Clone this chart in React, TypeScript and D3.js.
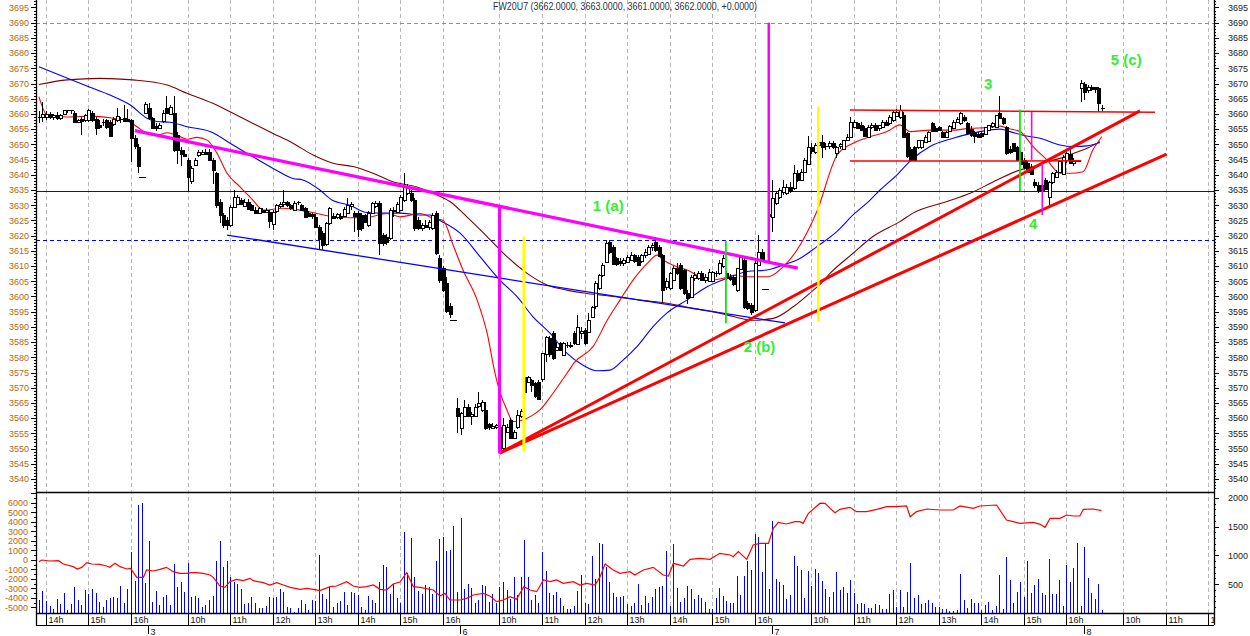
import React from "react";
import * as d3 from "d3";

// ---------- DATA ----------
const DAY_STARTS = [0, 88, 176, 264, 352];
const DAY_NAMES = ["2", "3", "6", "7", "8"];
const CLOSE_INDEX = 87;
const FIRST_G = 58;
const TITLE = "FW20U7 (3662.0000, 3663.0000, 3661.0000, 3662.0000, +0.0000)";

const HOUR_TICKS: [number, number][] = [
  [0, 14], [0, 15], [0, 16],
  [1, 10], [1, 11], [1, 12], [1, 13], [1, 14], [1, 15], [1, 16],
  [2, 10], [2, 11], [2, 12], [2, 13], [2, 14], [2, 15], [2, 16],
  [3, 10], [3, 11], [3, 12], [3, 13], [3, 14], [3, 15], [3, 16],
  [4, 10], [4, 11], [4, 12],
];

const PRICE_LABELS = d3.range(3540, 3700, 5);
const IND_LABELS = [6000, 5000, 4000, 3000, 2000, 1000, 0, -1000, -2000, -3000, -4000, -5000];
const VOL_LABELS = [2000, 1500, 1000, 500];

// o, h, l, c
const OHLC_D2 = [
  [3659,3661,3657,3659],[3659,3664,3657.5,3660],[3659,3661,3658,3660],[3660,3660.5,3658.5,3659],
  [3659,3660,3658,3659.5],[3659.7,3660.5,3658,3658.6],[3658.6,3660,3658,3659.5],[3660,3661.3,3659.5,3661.3],
  [3661.3,3661.3,3660.2,3661],[3661,3661.3,3660,3661.3],[3660.2,3661,3657,3657.2],[3657.2,3658.5,3657,3658],
  [3658.5,3659,3653,3658],[3658,3660,3657.5,3659.6],[3658,3661.5,3657.5,3661.3],[3660.2,3661,3657.5,3658],
  [3658.2,3659,3653,3655.3],[3656.5,3658,3655,3655.8],[3657.5,3658.5,3656,3657.5],[3658,3658.5,3655,3655.8],
  [3657.5,3658,3652.5,3653],[3657,3659,3656,3658.5],[3658,3661.8,3657.5,3659.2],[3658,3659,3657,3658.3],
  [3658.8,3663,3657.5,3657.7],[3658.2,3661.5,3657.5,3657.6],[3658,3658.5,3644.3,3652],[3652,3653,3648.5,3649.3],
  [3649.3,3650,3640.5,3643.2],[3639.2,3639.2,3639.2,3639.2],
];

const OHLC_D3 = [
  [3660.2,3664,3660,3663.3],[3662,3663.5,3658,3658.6],[3658.6,3659,3655,3655.3],[3656,3657,3654.5,3655.5],
  [3655.5,3657,3655,3656.5],[3657.5,3661.3,3657,3660.2],[3661.8,3665.9,3660,3660.2],[3660.2,3663,3659.5,3662.4],
  [3660.2,3665.9,3647.5,3648.2],[3653,3654,3643.5,3648.2],[3648.2,3649,3643,3647],[3647,3648,3646,3646.5],
  [3645,3645.5,3634.5,3639.4],[3637.7,3643,3637,3642.1],[3643.5,3645.5,3643,3645],[3646.5,3648,3646,3647.5],
  [3646.8,3648,3646.5,3647.5],[3647.5,3648.5,3646.5,3647],[3647.5,3648.5,3644.5,3644.9],[3645,3645.5,3637,3641.6],
  [3640.5,3641,3629,3630],[3631.2,3632,3624,3626.8],[3626.8,3627.5,3622.5,3623.5],[3625.1,3626,3622,3623.5],
  [3623.5,3630,3623,3629.5],[3629.5,3635,3629,3632.8],[3630.6,3633.5,3630,3632.8],[3631.7,3632.5,3630,3630.5],
  [3630,3632,3629.5,3631.2],[3631.2,3632,3628.5,3629],[3630,3630.5,3628,3628.4],[3628.5,3629.5,3627,3627.5],
  [3627.5,3629.5,3627,3629],[3628.5,3629,3627.5,3628],[3628,3629,3627.5,3628.5],[3627.9,3628.5,3622.5,3625.1],
  [3624,3628.5,3622,3627.9],[3627.9,3630.5,3627.5,3630],[3630,3631,3629,3630.5],[3630.5,3635,3629.5,3631],
  [3631,3631.5,3629.5,3630],[3630,3630.5,3628.5,3629],[3628.4,3631.5,3628,3630.8],[3630.8,3631.5,3630,3631],
  [3630,3630.5,3628,3628.4],[3629,3629.5,3626,3626.2],[3627.5,3628,3626,3626.5],[3627,3627.5,3625.5,3626.5],
  [3626.2,3627,3622.5,3623],[3623,3623.5,3615.3,3619.1],[3620.8,3621.5,3615.3,3617],[3617,3624.5,3616.5,3624],
  [3624,3629.5,3623.5,3629],[3626.5,3627.5,3625.5,3626],[3626,3627.5,3625.5,3627],[3626.5,3627.5,3625,3626],
  [3626.5,3629.5,3626,3628.7],[3627.5,3632.3,3627,3630],[3630,3631,3628.5,3630.5],[3627.3,3628,3621.3,3626.3],
  [3627.3,3628,3619.5,3621.9],[3626.8,3627.5,3621.5,3622.4],[3626.8,3627,3624.5,3624.6],[3623.5,3628,3623,3627.3],
  [3627.3,3631,3627,3630.6],[3629.5,3631.5,3629,3630.6],[3630.6,3631.5,3613.6,3617.5],[3620.2,3621,3616.5,3617.5],
  [3619.6,3620.5,3617,3618],[3619.1,3629,3618.5,3628.4],[3628.4,3629.5,3626,3628],[3628,3631,3627.5,3630.5],
  [3628.4,3633.5,3628,3632.8],[3631.7,3640.6,3631,3636.1],[3634,3637,3633.5,3636],[3633.9,3635,3631,3631.7],
  [3631.7,3632.5,3621.5,3622.4],[3625.1,3626,3622,3622.4],[3622.4,3624,3621.5,3623.5],[3623.5,3625,3622.5,3623],
  [3623,3625,3622,3624.5],[3622.4,3627.5,3622,3626.8],[3627.3,3628,3613.5,3614.2],[3612.5,3613.6,3604.3,3605.4],
  [3609.3,3610,3601.5,3602.1],[3604.3,3606.5,3594.5,3595.2],[3597,3598,3593,3594.5],[3592.3,3592.3,3592.3,3592.3],
];

const OHLC_D6 = [
  [3563.5,3566.5,3555,3561],[3556.7,3562,3554.5,3561.6],[3561,3566,3560.5,3563.8],[3563.8,3564.5,3560.5,3561],
  [3561,3562,3557.7,3561.5],[3561,3564.5,3560.5,3563.8],[3563.8,3568.7,3563.5,3564.9],[3562.7,3566,3562,3565.4],
  [3562.7,3565.4,3556,3556.7],[3558,3558.5,3556,3557],[3557,3558.5,3556.5,3557.5],[3557.2,3558,3556.5,3557.7],
  [3557.2,3557.5,3548.4,3549],[3550,3559.9,3549.5,3557.7],[3555.5,3558,3555,3557.2],[3559.4,3560,3553,3553.4],
  [3553.4,3556,3553,3555.5],[3557.2,3562.7,3556.5,3561],[3561,3563,3560,3562.5],[3573.6,3576.4,3568,3568.7],
  [3572,3574,3571.5,3573.6],[3572.5,3573,3568.7,3570.9],[3571.4,3572,3566.5,3567],[3572,3572.5,3566,3566.5],
  [3572.6,3581.5,3572,3581.3],[3581.3,3587,3578.6,3586.8],[3586.2,3587,3580,3580.8],[3587.9,3588.5,3579,3579.7],
  [3582.5,3585,3582,3583.5],[3584.6,3585,3582,3582.4],[3580.8,3585,3580.5,3584.6],[3584,3585,3583,3584.2],
  [3584.2,3585,3583,3583.8],[3587.9,3588.5,3584,3584.6],[3584.6,3593.9,3584,3590.1],[3588,3590,3586,3588.5],
  [3589,3589.5,3584,3584.6],[3588.4,3594.5,3588,3592.3],[3593.4,3597,3593,3596.7],[3596.7,3605,3596,3604.3],
  [3602.7,3607.5,3602,3607.1],[3607.1,3611,3606.5,3610.4],[3611.4,3618.5,3611,3617.5],[3618,3618.5,3614,3614.7],
  [3616.4,3617,3610.5,3610.9],[3612.5,3613,3610,3610.4],[3611.5,3612.5,3610,3611],[3611,3612.5,3610,3612],
  [3611.4,3613.5,3611,3613.1],[3612,3614.5,3611.5,3613.5],[3613.5,3614,3611,3611.5],[3613.1,3613.5,3610,3610.4],
  [3611.5,3614,3611,3613.6],[3613.6,3615.5,3612.5,3614.5],[3614.2,3617,3613.5,3616.4],[3616,3617.5,3615,3616.8],
  [3618,3619.5,3614.5,3615.3],[3616.4,3617,3613,3613.6],[3613.6,3614,3597.8,3602.1],[3603,3606,3602,3605],
  [3602.7,3608,3602,3607.6],[3605.4,3610,3605,3609.3],[3609.5,3611,3607,3608],[3610.4,3611,3602,3602.7],
  [3608.7,3609,3600.5,3601],[3601,3602,3597.5,3599.4],[3599.9,3607,3599.5,3606.5],[3606,3608,3605,3607],
  [3606,3608.5,3605.5,3607.6],[3607.6,3608.5,3605,3605.4],[3605.5,3607.5,3604.5,3606.5],[3605.4,3609,3605,3608.2],
  [3605.4,3608.5,3605,3608.2],[3607.5,3608.5,3606.5,3607.6],[3607.6,3612,3607,3610.9],[3609.8,3613.6,3609.5,3612.5],
  [3607.6,3608.5,3605.5,3606],[3606.5,3607.5,3605,3606],[3606.5,3607,3603.5,3604.3],[3602.1,3609.5,3601.5,3609.3],
  [3609.3,3613.5,3609,3613.1],[3612,3613,3596,3596.7],[3597.8,3598.5,3595.5,3596.1],[3597.2,3598,3593.9,3595],
  [3595.6,3611.5,3595,3610.9],[3610.4,3620.2,3610,3614.7],[3614.7,3615.5,3611.5,3612],[3602.5,3602.5,3602.5,3602.5],
];

const OHLC_D7 = [
  [3627,3629,3624,3626.5],[3626.2,3638.3,3621.3,3632.3],[3630.6,3634.5,3630,3633.9],[3632.8,3635.5,3632,3635],
  [3634.5,3638.3,3633.5,3636.1],[3634,3637,3633.5,3636.1],[3636.1,3637.5,3634,3634.8],[3635.5,3643.2,3635,3640.5],
  [3640.5,3641.5,3637.5,3638.3],[3638.3,3642,3638,3641],[3641,3645.5,3640.5,3644.9],[3643.8,3652.6,3643.5,3649.3],
  [3649.3,3650.5,3647,3648],[3647.6,3650.5,3647,3649.8],[3649.8,3651.5,3648.5,3650.9],[3650.9,3653.1,3645.4,3649.3],
  [3649.3,3650.5,3648,3649.5],[3649.5,3651,3648.5,3650.5],[3650.5,3651,3648.5,3649.3],[3647.1,3649.5,3645.4,3649.2],
  [3649.2,3650.5,3648.5,3650],[3648.5,3651.5,3648,3651.4],[3651.4,3653.5,3651,3652.5],[3652.5,3659.1,3652,3657.5],
  [3655.8,3658,3655.5,3657.5],[3657,3657.5,3655,3655.3],[3656.5,3657.5,3654.5,3654.9],[3655.3,3656,3652.5,3652.6],
  [3652.6,3656.5,3652,3655.8],[3655.8,3657,3655,3656.5],[3656.4,3657,3654.5,3654.7],[3655.2,3656.5,3654.5,3656.3],
  [3656,3658,3655.5,3657.5],[3657.5,3658,3656,3656.5],[3657,3659.5,3656.5,3659.1],[3658,3661,3657.5,3660.6],
  [3659.5,3661.5,3659,3660.8],[3659.1,3663,3658.5,3661.3],[3659.7,3660.5,3652.5,3652.6],[3653.6,3654,3645.5,3646],
  [3648.5,3649,3644.5,3645],[3649.2,3649.5,3644.4,3644.9],[3649.2,3651.5,3648.5,3651.4],[3649.2,3651.5,3648.5,3651.4],
  [3651,3653,3650.5,3652.5],[3651.4,3654.5,3651,3654.2],[3656.9,3657.5,3654,3654.2],[3655.5,3656,3654,3654.5],
  [3655.8,3656,3654.5,3654.7],[3654.2,3654.5,3652.5,3652.5],[3652.5,3654.5,3652,3654.2],[3654.2,3656.5,3654,3656],
  [3655.5,3658,3655,3657.5],[3657.5,3659,3657,3658.5],[3657,3660.5,3656.5,3660.2],[3659.1,3659.5,3657.5,3658],
  [3656.9,3657.5,3653,3653.5],[3655,3656,3652.5,3653],[3653.6,3654.5,3650.5,3652.5],[3653.5,3654,3652,3652.5],
  [3653.6,3654,3652,3652.5],[3653.5,3655.5,3653,3655.8],[3655,3656.5,3654.5,3656.5],[3655.8,3657.5,3655.5,3656.9],
  [3655.8,3659.7,3655.5,3659.7],[3660.2,3665.9,3658.5,3658.6],[3658.6,3659,3656.5,3656.9],[3655.8,3656,3646.5,3647.1],
  [3648.5,3649.5,3647,3647.5],[3650.3,3650.5,3647.5,3647.6],[3649.2,3649.5,3644.5,3644.9],[3647.6,3648,3643.5,3643.8],
  [3644.9,3645.5,3642,3642.7],[3643.8,3644.5,3640.5,3641],[3642.7,3643.5,3640,3640.5],[3637.7,3638.5,3635.5,3636.6],
  [3636.6,3637.5,3634,3635],[3636.6,3637,3633.5,3635],[3638.3,3639,3635,3635.5],[3632.8,3638,3629.5,3637.7],
  [3637.7,3641,3637,3640.5],[3639.4,3641.5,3639,3641],[3641,3645,3640.5,3644.5],[3640.5,3646.5,3640,3646],
  [3644.9,3647.5,3644,3647.1],[3647,3648.5,3643.5,3644],[3644,3645.5,3643,3644.5],[3644.5,3644.5,3644.5,3644.5],
];

const OHLC_D8 = [
  [3668.5,3671.2,3664,3670.1],[3670,3670.5,3664.6,3667.5],[3668,3669.5,3667,3669],[3669,3669.5,3667.5,3668.5],
  [3668.7,3669,3667,3668],[3668.5,3669,3660.6,3663.5],[3662,3663,3661,3662],
];

const VOLUME = [
  // day 2 (from bar 58)
  226,382,208,122,69,243,151,342,52,156,452,226,139,400,330,417,342,197,98,226,255,284,255,463,174,417,1060,556,1876,1916,
  // day 3
  527,1251,197,382,139,284,313,139,851,452,544,371,
  874,284,295,255,98,139,226,295,903,1251,799,903,
  631,544,504,417,156,168,278,168,87,87,122,284,
  266,284,417,365,98,87,23,81,226,156,52,226,
  214,1007,330,243,457,98,168,208,365,139,371,342,
  313,98,52,295,226,179,538,834,793,324,504,255,
  168,1401,700,1297,620,388,330,486,457,330,909,1285,
  1314,1077,1094,1517,
  // day 6
  371,1650,411,498,428,168,226,486,469,197,330,179,
  457,544,400,243,620,313,620,1268,620,226,313,179,
  1060,735,353,313,371,255,122,69,69,122,388,660,
  179,156,996,585,1222,1199,793,544,353,272,272,295,
  156,122,179,498,139,295,179,272,423,457,469,1077,
  122,1199,440,191,255,469,411,243,313,255,185,69,
  69,255,440,295,208,168,168,643,313,643,903,747,
  1372,1314,718,1210,
  // day 7
  417,1604,585,544,486,243,313,996,816,747,255,730,
  469,764,701,562,411,272,359,712,400,457,353,573,
  353,156,168,156,81,93,156,139,64,75,330,400,
  110,400,110,365,874,261,313,151,179,226,168,110,
  98,75,64,41,41,52,677,226,93,243,168,174,
  52,139,191,58,122,660,75,973,573,174,365,538,
  284,903,347,486,591,347,313,938,330,330,573,122,
  834,538,782,1222,
  // day 8
  122,1146,608,347,243,498,52,
];

// moving averages: [bar, price]
const MA_FAST: [number, number][] = [
  [58,3665.7],[60.3,3659.7],[65.9,3659],[73.3,3659.3],[78.9,3658.6],[82.9,3657.8],[85.7,3655.8],[88.5,3653.6],
  [91.4,3653],[94.2,3653.8],[97,3653],[99.8,3651.7],[102.6,3652.3],[105.5,3651.4],[108.3,3647],[111.1,3640.5],
  [114.8,3636],[118.4,3631.7],[121.3,3628.4],[126.9,3629],[131.7,3628.4],[136.5,3627.3],[141,3626.2],[145.8,3625.9],
  [150.6,3626],[156.2,3627.3],[159.9,3626.2],[165.6,3627.3],[169.3,3625.7],[172.1,3625],[174.9,3616.9],[177.7,3608.7],
  [181.7,3598.8],[184.5,3588],[186.7,3575],[188.1,3568.7],[190.1,3562.7],[191.8,3558.9],[194.3,3559.3],[197.4,3561],
  [199.4,3562.7],[203.1,3568.2],[207,3574.7],[209.3,3578.5],[214.4,3583.5],[218.4,3592.2],[222,3598.8],[225.7,3605.4],
  [229.7,3610.9],[232.5,3613.6],[234.2,3612],[237,3610.3],[241,3608.7],[244.7,3606.5],[248.3,3605.4],[251.2,3606],
  [254,3607],[258,3606.5],[261.6,3606.5],[263.9,3606.5],[268.1,3609.8],[272.9,3617],[277.6,3628],[283.3,3646.5],
  [287.8,3650.4],[292.6,3652.5],[297.4,3654.2],[301,3656.4],[303.9,3654.2],[309.5,3654.7],[316,3654.7],[320.8,3655.3],
  [325.6,3655.5],[329.3,3656],[331.2,3655.3],[334.9,3654.2],[338.6,3649.3],[342.5,3644.9],[346.2,3640.5],[349,3640.5],
  [352.7,3641],[355.5,3648.2],[358,3652.5],
];

const MA_MID: [number, number][] = [
  [58,3675.5],[71.9,3669],[78.1,3666.2],[83.7,3663],[88.5,3658.6],[91.3,3657.5],[95,3657.3],[99.8,3655.8],
  [106.3,3654.2],[112.8,3649.8],[118.4,3645.9],[124.1,3642.1],[129.7,3638.8],[132.5,3638.3],[137.3,3635],[140.7,3631.7],
  [145.8,3630],[150.6,3627.6],[155.1,3627.4],[159.9,3627.4],[165.6,3626.8],[168.4,3626.8],[171.2,3625],[176.9,3620.8],
  [182.5,3613.1],[188.1,3605.4],[192.9,3600],[197.4,3593.4],[202.2,3588],[207,3581.4],[211.5,3577.5],[215.5,3575.6],
  [219.2,3575.8],[222.8,3579],[226.8,3583.5],[231.3,3590],[235.3,3594.6],[240.9,3598.8],[246.6,3603.2],[252.2,3606],
  [257.9,3608.2],[263.5,3608.7],[268,3610.3],[272.8,3612.5],[277.6,3616.4],[283.2,3621.3],[287.8,3626.8],[292.6,3631.7],
  [295.4,3635],[300.2,3640],[303.9,3644.5],[309.5,3649.3],[316,3652],[323.6,3654.2],[329.3,3655],[332.1,3654.2],
  [335.8,3653],[340.6,3652],[346.2,3649.8],[349.9,3649.3],[353.9,3649.5],[357.5,3650.6],
];

const MA_SLOW: [number, number][] = [
  [58,3669.7],[66,3671.2],[75.2,3671.7],[84.6,3671.2],[94.2,3669.5],[99.8,3666.8],[107.1,3663.5],[112.8,3660.2],
  [118.4,3656.9],[124.1,3653.6],[129.7,3650.4],[135.4,3646.5],[141,3643.8],[146.7,3642.7],[152.3,3640.5],[157.9,3637.7],
  [164.7,3636],[169.3,3633.9],[174,3631.2],[178.8,3626.2],[184.5,3619.7],[190.1,3613.1],[195.8,3607.6],[201.4,3603.8],
  [207,3602.1],[212.7,3601],[220.1,3600],[227.7,3598.8],[235.3,3597.8],[242.7,3596.1],[250.3,3594.5],[254,3593.4],
  [259.6,3592.2],[265.3,3592.8],[270.9,3596.6],[276.6,3602.1],[278.5,3604],[281.3,3607.6],[287.8,3614.2],[293.4,3619.7],
  [301,3624.6],[304.7,3627.4],[314.3,3631.2],[320.8,3633.9],[328.4,3638.3],[334.9,3641.6],[338.6,3642.7],[342.5,3644.3],
  [346.2,3645.4],[349.9,3647],[353.9,3648.7],[357.5,3650.9],
];

// indicator in lower pane (left scale)
const INDICATOR: [number, number][] = [
  [58,-202],[58.8,-26],[61.1,-132],[63.5,-97],[64.9,-447],[67.7,-728],[68.8,-973],[70.1,-800],[71.5,-307],[72.9,-447],
  [75.2,-482],[77.1,-657],[78,-798],[79.5,-377],[80.9,-728],[82.8,-973],[83.9,-903],[85.6,-1850],[87.5,-1850],[88.4,-1078],
  [90.3,-1184],[92.2,-1008],[94,-798],[95.9,-1254],[97.8,-1429],[99.7,-1429],[101.1,-1359],[102.5,-1359],[104.4,-1429],
  [106.3,-1604],[107.2,-1850],[109.1,-2761],[110.5,-2901],[111.9,-2305],[113.8,-2060],[115.7,-2200],[117.6,-1955],
  [118.5,-2200],[121.3,-2410],[123.2,-2656],[125.1,-2410],[127,-2656],[128.9,-2901],[131.7,-3112],[133.6,-3007],
  [135.5,-3112],[137.3,-3252],[140.2,-2831],[142,-2761],[144.9,-2305],[146.7,-2761],[148.6,-2901],[150.5,-2831],
  [152.4,-2656],[154.3,-3112],[156.1,-3182],[158,-2551],[159.9,-2350],[161.8,-1359],[163.7,-2831],[165.6,-2900],
  [169.3,-3182],[171.2,-3813],[172.6,-3533],[174,-4234],[176.9,-4234],[178.7,-4058],[180.6,-3708],[183.4,-3533],
  [185.3,-3813],[187.2,-4409],[189.1,-4234],[191,-3883],[192.8,-4164],[194.9,-2831],[196.6,-3182],[198.5,-3357],
  [200.4,-2130],[202.3,-2305],[204.1,-2130],[206,-2480],[208.8,-2305],[210.7,-2656],[212.6,-2480],[215,-2656],
  [216.4,-1780],[217.8,-447],[220.1,-1078],[222,-1429],[224.8,-1254],[226.2,-1604],[228.6,-1078],[231.4,-798],
  [234.2,-1604],[235.7,-1709],[237.1,-377],[239.9,-657],[241.8,44],[244.6,149],[247.4,44],[250.2,675],[253.1,499],
  [254,324],[255.4,850],[257.8,44],[259.6,1551],[261.5,1726],[263.9,1726],[265.3,3304],[266.7,3935],[269,3760],
  [271.4,4005],[272.8,4005],[273.7,3830],[275.2,4882],[278.5,5950],[279.9,5934],[281.3,5408],[282.7,4952],[284.1,5303],
  [286.9,5513],[288.8,5057],[291.6,5057],[294.5,5303],[297.3,5583],[300.1,5583],[302.9,5653],[303.9,4531],[305.7,5057],
  [308.6,5338],[312.3,5232],[316.1,5232],[318,5653],[321.7,5408],[323.6,5653],[328.3,5758],[331.1,4181],[333,4005],
  [334.9,3830],[338.7,3935],[340.6,3725],[342,3409],[343.4,4356],[346.2,4356],[348.1,4706],[350,4601],[351.8,4601],
  [352.8,5303],[355.6,5338],[357.9,5162],
];

// levels and drawn lines (bar, price)
const H_LEVELS = [
  { p: 3690, color: "#22dd22", dash: "4,3" },
  { p: 3634.6, color: "#0000ff", dash: "" },
  { p: 3618.5, color: "#0000ff", dash: "4,3" },
];

const TREND_LINES = [
  { a: [85.1, 3654.5], b: [272.2, 3609.3], color: "#ff00ff", w: 3.2 },
  { a: [111.1, 3620.2], b: [268.6, 3591.3], color: "#0000ff", w: 1.3 },
  { a: [188, 3548.5], b: [368.8, 3661], color: "#ff0000", w: 3 },
  { a: [188, 3548.5], b: [376.3, 3646.8], color: "#ff0000", w: 3 },
  { a: [286.9, 3661.3], b: [373, 3660.6], color: "#ff0000", w: 1.5 },
  { a: [286.9, 3644.5], b: [352.2, 3644.6], color: "#ff0000", w: 1.5 },
  { a: [188, 3629.5], b: [188, 3548.4], color: "#ff00ff", w: 3 },
  { a: [264, 3690], b: [264, 3611], color: "#ff00ff", w: 2.5 },
  { a: [194.9, 3619.7], b: [194.9, 3549], color: "#ffff00", w: 3 },
  { a: [278, 3662.4], b: [278, 3591.7], color: "#ffff00", w: 2.5 },
  { a: [251.9, 3618.2], b: [251.9, 3591.2], color: "#00ee00", w: 1.8 },
  { a: [334.9, 3661.5], b: [334.9, 3634.7], color: "#00ee00", w: 1.8 },
  { a: [338.2, 3660.7], b: [338.2, 3644.9], color: "#ff00ff", w: 1.6 },
  { a: [341.2, 3643.8], b: [341.2, 3626.8], color: "#ff00ff", w: 1.6 },
];

const WAVE_LABELS = [
  { text: "1 (a)", g: 218.7, p: 3628.1 },
  { text: "2 (b)", g: 261.4, p: 3581.7 },
  { text: "3", g: 325.9, p: 3668.2 },
  { text: "4", g: 338.6, p: 3622.2 },
  { text: "5 (c)", g: 364.9, p: 3676.1 },
];

// ---------- CHART ----------
const W = 1250, H = 636;
const L = 36, R = 1214;
const MAIN_BOTTOM = 492, VOL_BOTTOM = 613, AXIS_ROW = 625;
const FONT = "Arial, 'Liberation Sans', sans-serif";

const xS = d3.scaleLinear().domain([100, 388]).range([187.7, 187.7 + 288 * 3.543]);
const yP = d3.scaleLinear().domain([3690, 3540]).range([22.7, 479]);
const yV = d3.scaleLinear().domain([0, 2000]).range([VOL_BOTTOM, 497.8]);
const yI = d3.scaleLinear().domain([6000, -5000]).range([502.7, 607.3]);

type Bar = { g: number; o: number; h: number; l: number; c: number; closing: boolean };

function buildBars(): Bar[] {
  const days = [OHLC_D2, OHLC_D3, OHLC_D6, OHLC_D7, OHLC_D8];
  const starts = [FIRST_G, DAY_STARTS[1], DAY_STARTS[2], DAY_STARTS[3], DAY_STARTS[4]];
  const out: Bar[] = [];
  days.forEach((arr, di) => {
    arr.forEach((v, i) => {
      const g = starts[di] + i;
      out.push({ g, o: v[0], h: v[1], l: v[2], c: v[3], closing: g - DAY_STARTS[di] === CLOSE_INDEX });
    });
  });
  return out;
}

export default function App() {
  const bars = buildBars();
  const maLine = d3.line<[number, number]>().x((d) => xS(d[0])).y((d) => yP(d[1])).curve(d3.curveMonotoneX);
  const indLine = d3.line<[number, number]>().x((d) => xS(d[0])).y((d) => yI(d[1]));

  const hourG = HOUR_TICKS.map(([d, h]) => ({ g: DAY_STARTS[d] + (h - 9) * 12, h }));

  const priceTicks = d3.range(3536, 3698);
  const indTicks = d3.range(-5500, 7001, 500);
  const volTicks = d3.range(100, 2101, 100);

  return (
    <svg width={W} height={H} style={{ position: "absolute", left: 0, top: 0, background: "#fff" }}
      xmlns="http://www.w3.org/2000/svg">
      <defs>
        <clipPath id="mainClip"><rect x={L} y={0} width={R - L} height={MAIN_BOTTOM} /></clipPath>
        <clipPath id="volClip"><rect x={L} y={MAIN_BOTTOM} width={R - L} height={VOL_BOTTOM - MAIN_BOTTOM} /></clipPath>
        <clipPath id="axisClip"><rect x={L} y={VOL_BOTTOM} width={R - L} height={H - VOL_BOTTOM} /></clipPath>
      </defs>
      <rect x={0} y={0} width={W} height={H} fill="#fff" />

      {/* grid */}
      {hourG.map((t, i) => {
        const x = Math.round(xS(t.g)) + 0.5;
        return x > L && x < R ? (
          <line key={"gr" + i} x1={x} x2={x} y1={0} y2={VOL_BOTTOM} stroke="#b8b8b8" strokeWidth={1} strokeDasharray="4,3" />
        ) : null;
      })}

      {/* horizontal levels */}
      <g clipPath="url(#mainClip)">
        {H_LEVELS.map((lv, i) => (
          <line key={"lv" + i} x1={L} x2={R} y1={Math.round(yP(lv.p)) + 0.5} y2={Math.round(yP(lv.p)) + 0.5}
            stroke={lv.color} strokeWidth={1.2} strokeDasharray={lv.dash || undefined} />
        ))}

        {/* moving averages */}
        <path d={maLine(MA_SLOW) || ""} fill="none" stroke="#800000" strokeWidth={1.1} />
        <path d={maLine(MA_MID) || ""} fill="none" stroke="#0000ff" strokeWidth={1.1} />
        <path d={maLine(MA_FAST) || ""} fill="none" stroke="#ff0000" strokeWidth={1.1} />

        {/* candles */}
        <g shapeRendering="crispEdges">
          {bars.map((b) => {
            const cx = Math.round(xS(b.g)) + 0.5;
            if (b.closing) {
              const y = Math.round(yP(b.c)) + 0.5;
              return <line key={"c" + b.g} x1={cx - 3.5} x2={cx + 3.5} y1={y} y2={y} stroke="#000" strokeWidth={1} />;
            }
            const yo = yP(b.o), yc = yP(b.c);
            const top = Math.round(Math.min(yo, yc));
            const hgt = Math.max(1, Math.round(Math.abs(yo - yc)));
            const up = b.c >= b.o;
            return (
              <g key={"c" + b.g}>
                <line x1={cx} x2={cx} y1={Math.round(yP(b.h))} y2={Math.round(yP(b.l))} stroke="#000" strokeWidth={1} />
                {Math.abs(yo - yc) < 1 ? (
                  <line x1={cx - 2} x2={cx + 2} y1={top + 0.5} y2={top + 0.5} stroke="#000" strokeWidth={1} />
                ) : (
                  <rect x={cx - 1.5} y={top + 0.5} width={3} height={hgt} fill={up ? "#fff" : "#000"} stroke="#000" strokeWidth={1} />
                )}
              </g>
            );
          })}
        </g>

        {/* drawn lines */}
        {TREND_LINES.map((t, i) => (
          <line key={"tl" + i} x1={xS(t.a[0])} y1={yP(t.a[1])} x2={xS(t.b[0])} y2={yP(t.b[1])}
            stroke={t.color} strokeWidth={t.w} />
        ))}

        {WAVE_LABELS.map((w, i) => (
          <text key={"wl" + i} x={xS(w.g)} y={yP(w.p)} textAnchor="middle" fontFamily={FONT} fontWeight="bold"
            fontSize={15} fill="#33ee33">{w.text}</text>
        ))}
      </g>

      {/* title */}
      <text x={625} y={10} textAnchor="middle" fontFamily={FONT} fontSize={10} fill="#2a3440" textLength={264}
        lengthAdjust="spacingAndGlyphs">{TITLE}</text>

      {/* volume pane */}
      <g clipPath="url(#volClip)">
        <g shapeRendering="crispEdges">
          {VOLUME.map((v, i) => {
            const g = FIRST_G + i;
            const x = Math.round(xS(g)) + 0.5;
            return <line key={"v" + g} x1={x} x2={x} y1={VOL_BOTTOM} y2={yV(v)} stroke="#0000ff" strokeWidth={1.3} />;
          })}
        </g>
        <path d={indLine(INDICATOR) || ""} fill="none" stroke="#ff0000" strokeWidth={1.2} />
      </g>

      {/* frame lines */}
      <line x1={L} x2={R} y1={MAIN_BOTTOM + 0.5} y2={MAIN_BOTTOM + 0.5} stroke="#000" strokeWidth={1.5} />
      <line x1={L} x2={R} y1={VOL_BOTTOM + 0.5} y2={VOL_BOTTOM + 0.5} stroke="#000" strokeWidth={1.5} />
      <line x1={L} x2={R} y1={AXIS_ROW + 0.5} y2={AXIS_ROW + 0.5} stroke="#000" strokeWidth={1.2} />
      <line x1={L + 0.5} x2={L + 0.5} y1={0} y2={AXIS_ROW} stroke="#000" strokeWidth={1.3} />
      <line x1={R + 0.5} x2={R + 0.5} y1={0} y2={AXIS_ROW} stroke="#000" strokeWidth={1.3} />

      {/* price axis ticks & labels */}
      <g shapeRendering="crispEdges">
        {priceTicks.map((p) => {
          const y = Math.round(yP(p)) + 0.5;
          if (y < 1 || y > MAIN_BOTTOM - 1) return null;
          const major = p % 5 === 0;
          return (
            <g key={"pt" + p}>
              <line x1={L - (major ? 5 : 2)} x2={L} y1={y} y2={y} stroke="#000" />
              <line x1={R} x2={R + (major ? 5 : 2)} y1={y} y2={y} stroke="#000" />
            </g>
          );
        })}
        {indTicks.map((v) => {
          const y = Math.round(yI(v)) + 0.5;
          if (y < MAIN_BOTTOM + 1 || y > VOL_BOTTOM - 1) return null;
          const major = v % 1000 === 0;
          return <line key={"it" + v} x1={L - (major ? 5 : 2)} x2={L} y1={y} y2={y} stroke="#000" />;
        })}
        {volTicks.map((v) => {
          const y = Math.round(yV(v)) + 0.5;
          if (y < MAIN_BOTTOM + 1) return null;
          const major = v % 500 === 0;
          return <line key={"vt" + v} x1={R} x2={R + (major ? 5 : 2)} y1={y} y2={y} stroke="#000" />;
        })}
      </g>
      {PRICE_LABELS.map((p) => (
        <g key={"pl" + p}>
          <text x={29} y={yP(p) + 3.3} textAnchor="end" fontFamily={FONT} fontSize={9} fill="#b8660e">{p}</text>
          <text x={1228} y={yP(p) + 3.3} fontFamily={FONT} fontSize={9} fill="#222">{p}</text>
        </g>
      ))}
      {IND_LABELS.map((v) => (
        <text key={"il" + v} x={28} y={yI(v) + 3.3} textAnchor="end" fontFamily={FONT} fontSize={9} fill="#b8660e">{v}</text>
      ))}
      {VOL_LABELS.map((v) => (
        <text key={"vl" + v} x={1228} y={yV(v) + 3.3} fontFamily={FONT} fontSize={9} fill="#222">{v}</text>
      ))}

      {/* time axis */}
      <g clipPath="url(#axisClip)">
        {hourG.map((t, i) => {
          const x = Math.round(xS(t.g)) + 0.5;
          return (
            <g key={"hl" + i}>
              <line x1={x} x2={x} y1={VOL_BOTTOM} y2={AXIS_ROW} stroke="#000" strokeWidth={1} />
              <text x={x + 2} y={622.5} fontFamily={FONT} fontSize={9} fill="#111">{t.h + "h"}</text>
            </g>
          );
        })}
        {DAY_STARTS.map((ds, i) => {
          const x = Math.round(xS(ds)) + 3.5;
          if (x < L + 2) return null;
          return (
            <g key={"dl" + i}>
              <line x1={x} x2={x} y1={AXIS_ROW} y2={634} stroke="#000" strokeWidth={1} />
              <text x={x + 2} y={635} fontFamily={FONT} fontSize={9} fill="#111">{DAY_NAMES[i]}</text>
            </g>
          );
        })}
      </g>
    </svg>
  );
}
